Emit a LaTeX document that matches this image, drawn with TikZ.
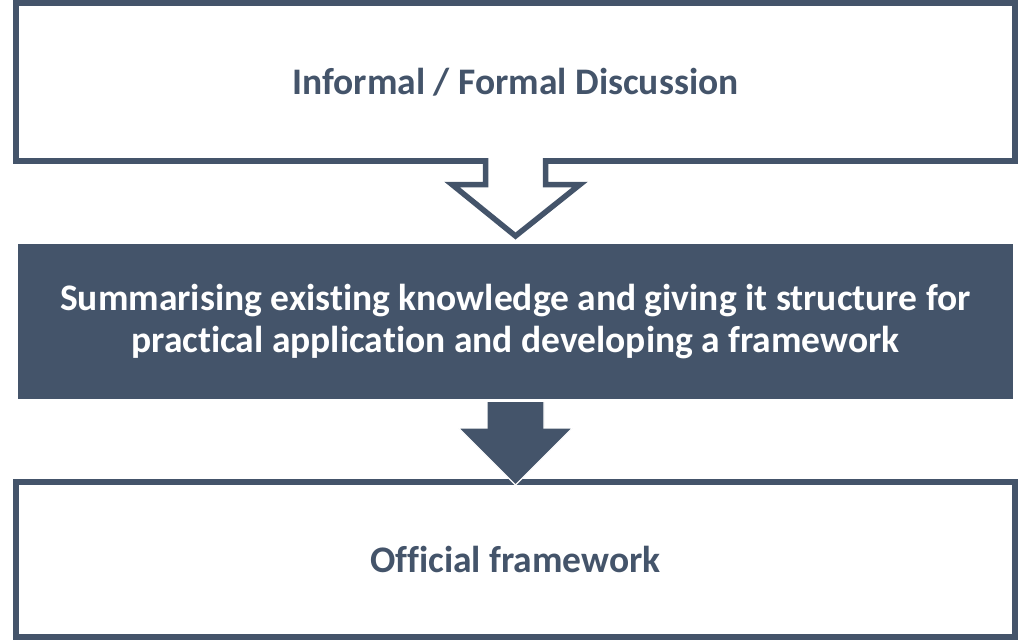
\documentclass[tikz,border=0pt]{standalone}
\usepackage{fontspec}
\setmainfont{Carlito}[Ligatures=NoCommon]
\definecolor{slateblue}{HTML}{44546A}
\usetikzlibrary{calc}

\begin{document}
\begin{tikzpicture}[
  x=1pt, y=-1pt,
  box/.style={draw=slateblue, line width=6pt, minimum width=999pt, inner sep=0pt, font=\fontsize{37.5}{42}\selectfont\bfseries, text=slateblue, align=center},
  hollowarrow/.style={draw=slateblue, line width=5.5pt, fill=white},
  solidarrow/.style={draw=white, line width=1.2pt, fill=slateblue}
]
  \useasboundingbox (0,0) rectangle (1025,640);

  % Outer boxes
  \node[box, minimum height=158pt] (disc) at (515.5, 82) {Informal / Formal Discussion};
  \node[box, minimum height=155pt] (official) at (515.5, 559.5) {Official framework};

  % Middle box
  \node[box, draw=none, fill=slateblue, text=white, minimum width=995pt, minimum height=155pt] (summ) at (515.5, 321.5) {Summarising existing knowledge and giving it structure for\\practical application and developing a framework};

  % Hollow arrow from discussion to summary
  \draw[hollowarrow] ($(disc.south)+(-30,-6)$) -- ++(0,26.5) -- ++(-33.5,0)
    -- ($(summ.north)+(0,-5)$) -- ($(disc.south)+(64.5,20.5)$) -- ++(-34.5,0) -- ++(0,-26.5);

  % Solid arrow from summary to official framework
  \draw[solidarrow] ($(summ.south)+(-28.5,0)$) -- ++(0,26) -- ++(-28.5,0)
    -- ($(official.north)+(0,6)$) -- ($(summ.south)+(57,26)$) -- ++(-28.5,0) -- ++(0,-26);
\end{tikzpicture}
\end{document}
